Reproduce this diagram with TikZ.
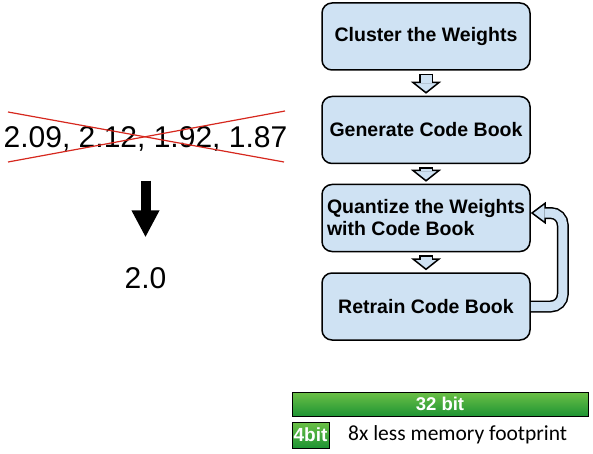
\documentclass[tikz,border=0pt]{standalone}
\usepackage{fontspec}
\setmainfont{Liberation Sans}
\newfontfamily\calibri{Carlito}
\usetikzlibrary{arrows.meta}

\definecolor{stepblue}{RGB}{207,226,243}
\definecolor{bartop}{RGB}{108,192,70}
\definecolor{barbottom}{RGB}{30,148,52}
\definecolor{crossred}{RGB}{214,40,30}

\begin{document}
\begin{tikzpicture}[x=1pt, y=-1pt,
  stepbox/.style={draw, line width=1.5pt, rounded corners=10pt, fill=stepblue, minimum width=208pt, minimum height=67pt, font=\fontsize{19.5}{22}\selectfont\bfseries},
  hollowout/.style={line width=14pt, -{Triangle[width=30pt, length=12pt, fill=stepblue, line width=1.5pt]}},
  hollowin/.style={line width=11pt, stepblue},
  bitbar/.style={draw, line width=0.8pt, top color=bartop, bottom color=barbottom, text=white, inner sep=0pt}]

\useasboundingbox (0, 0) rectangle (593, 454);

% steps
\node (cluster)  at (426, 36.5)  [stepbox] {Cluster the Weights};
\node (generate) at (426, 130)   [stepbox] {Generate Code Book};
\node (quantize) at (426, 218)   [stepbox, align=left] {Quantize the Weights\\with Code Book};
\node (retrain)  at (426, 306.5) [stepbox] {Retrain Code Book};

\foreach \a/\b in {cluster/generate, generate/quantize, quantize/retrain} {
  \draw[hollowout, shorten <=3pt, shorten >=2pt] (\a) -- (\b);
  \draw[hollowin, shorten <=4.5pt, shorten >=12.5pt] (\a) -- (\b);
}

\draw[hollowout, line width=12pt, -{Triangle[width=22pt, length=15pt, fill=stepblue, line width=1.5pt]}, rounded corners=12pt] (retrain.east) -- ++(32, 0) |- ([yshift=5pt]quantize.east);
\draw[hollowin, line width=9pt, shorten >=13.5pt, rounded corners=12pt] (retrain.east) -- ++(32, 0) |- ([yshift=5pt]quantize.east);

% values
\node (values)  at (145.5, 148) [anchor=base, inner sep=0pt, font=\fontsize{30}{32}\selectfont] {2.09, 2.12, 1.92, 1.87};
\node (average) at (145.5, 288) [anchor=base, inner sep=0pt, font=\fontsize{30}{32}\selectfont] {2.0};

\coordinate (strikeNW) at (8, 112);
\coordinate (strikeSE) at (284, 162);
\coordinate (strikeSW) at (8, 162);
\coordinate (strikeNE) at (285, 111);
\draw[crossred, line width=1.2pt] (strikeNW) -- (strikeSE);
\draw[crossred, line width=1.2pt] (strikeSW) -- (strikeNE);

\draw[line width=10pt, -{Triangle[width=26pt, length=27pt]}, shorten <=28.5pt, shorten >=29.5pt] (values.south) -- (average.north);

% memory
\node (fullbar)  at (440, 404)   [bitbar, minimum width=296pt, minimum height=24pt, font=\fontsize{18.5}{20}\selectfont\bfseries] {32 bit};
\node (smallbar) at (310.5, 435) [bitbar, minimum width=37pt, minimum height=26pt, font=\fontsize{19}{20}\selectfont\bfseries] {4bit};
\node (saving)   at (348, 435)   [anchor=west, inner sep=0pt, font=\calibri\fontsize{21.5}{23}\selectfont] {8x less memory footprint};

\end{tikzpicture}
\end{document}
